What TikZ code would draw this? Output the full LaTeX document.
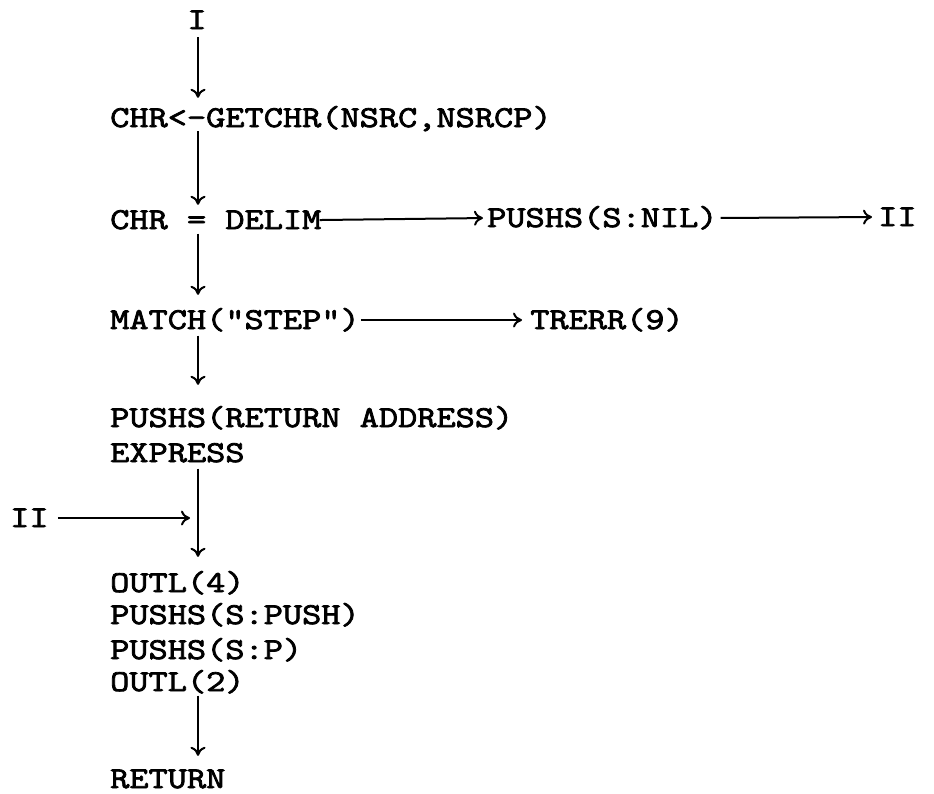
\documentclass[tikz,border=0pt]{standalone}
\usepackage{fontspec}
\newfontfamily\tw{Latin Modern Mono}[FakeStretch=1.23, FakeBold=2.6]
\usetikzlibrary{arrows.meta}
\begin{document}
\begin{tikzpicture}[x=1pt,y=-1pt,
  txt/.style={font=\tw\fontsize{30.3}{34}\selectfont, inner sep=0pt, anchor=base west, text height=18pt, text depth=0pt},
  arr/.style={line width=2pt, -{To[length=9pt,width=15pt]}}]
\fill[white] (0,0) rectangle (934,793);
\useasboundingbox (0,0) rectangle (934,793);
\coordinate (col) at (198,0);
\node[txt,anchor=base] (I) at (197,29) {I};
\node[txt] (chr1) at (110,127) {CHR<-GETCHR(NSRC,NSRCP)};
\node[txt] (chr2) at (110,229) {CHR = DELIM};
\node[txt] (nil) at (487,227) {PUSHS(S:NIL)};
\node[txt] (IIb) at (878,226) {II};
\node[txt] (match) at (110,329) {MATCH("STEP")};
\node[txt] (trerr) at (530,329) {TRERR(9)};
\node[txt] (ret) at (110,427) {PUSHS(RETURN ADDRESS)};
\node[txt] (expr) at (110,462) {EXPRESS};
\node[txt] (IIa) at (10,527) {II};
\node[txt] (outl4) at (110,592) {OUTL(4)};
\node[txt] (push) at (110,624) {PUSHS(S:PUSH)};
\node[txt] (pushp) at (110,659) {PUSHS(S:P)};
\node[txt] (outl2) at (110,691) {OUTL(2)};
\node[txt] (return) at (110,788) {RETURN};
\draw[arr, shorten <=8pt, shorten >=11pt] (col |- I.south) -- (col |- chr1.north);
\draw[arr, shorten <=4pt, shorten >=6pt] (col |- chr1.south) -- (col |- chr2.north);
\draw[arr, shorten <=4.5pt, shorten >=16pt] (col |- chr2.south) -- (col |- match.north);
\draw[arr, shorten <=6.5pt, shorten >=24pt] (col |- match.south) -- (col |- ret.north);
\draw[arr, shorten <=6.5pt, shorten >=17pt] (col |- expr.south) -- (col |- outl4.north);
\draw[arr, shorten <=4.5pt, shorten >=14pt] (col |- outl2.south) -- (col |- return.north);
\draw[arr, shorten <=-2pt, shorten >=4pt] (chr2.east) -- (nil.west);
\draw[arr, shorten <=3pt, shorten >=6pt] (nil.east) -- (IIb.west);
\draw[arr, shorten <=1pt, shorten >=8pt] (match.east) -- (trerr.west);
\draw[arr, shorten <=9pt, shorten >=8pt] (IIa.east) -- (col |- IIa.east);
\end{tikzpicture}
\end{document}
